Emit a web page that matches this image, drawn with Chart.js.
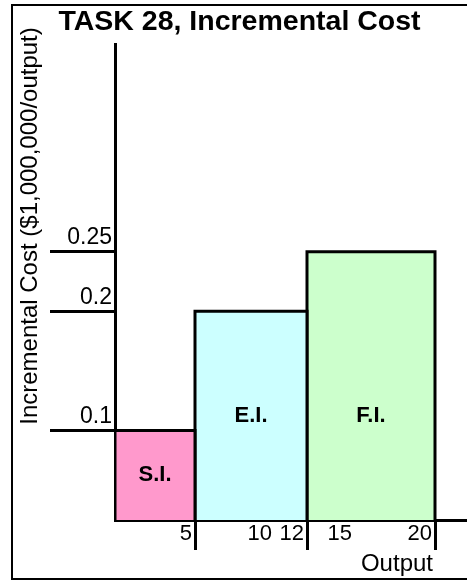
<!DOCTYPE html>
<html>
<head>
<meta charset="utf-8">
<script src="https://cdn.jsdelivr.net/npm/chart.js@4/dist/chart.umd.min.js"></script>
<style>
  html, body { margin: 0; padding: 0; background: #fff; overflow: hidden; }
  #wrap { position: relative; width: 467px; height: 580px; overflow: hidden; }
  #frame { position: absolute; left: 11px; top: 4px; width: 500px; height: 572px; border: 2px solid #000; }
  #c { position: absolute; left: 0; top: 0; }
</style>
</head>
<body>
<div id="wrap">
  <div id="frame"></div>
  <canvas id="c" width="467" height="580"></canvas>
</div>
<script>
// segments of output and their incremental cost
const segments = ['S.I.', 'E.I.', 'F.I.'];
const segStart = [0, 5, 12];
const segEnd = [5, 12, 20];
const cost = [0.1, 0.2, 0.25];
const xTicks = [5, 10, 12, 15, 20];
const yTicks = [0.1, 0.2, 0.25];

const family = '"Liberation Sans", Arial, sans-serif';
const fills = ['#ff99cc', '#ccffff', '#ccffcc'];

// each block is drawn as a closed step outline, filled down to the axis
const datasets = segments.map((name, i) => ({
  label: name,
  data: [
    { x: segStart[i], y: 0 },
    { x: segStart[i], y: cost[i] },
    { x: segEnd[i], y: cost[i] },
    { x: segEnd[i], y: 0 }
  ],
  showLine: true,
  fill: 'origin',
  backgroundColor: fills[i],
  borderColor: '#000',
  borderWidth: 3,
  borderJoinStyle: 'miter',
  pointRadius: 0,
  tension: 0
}));

// block names + axis titles
const annotate = {
  id: 'annotate',
  afterDatasetsDraw(chart) {
    const { ctx, scales: { x, y } } = chart;
    ctx.save();
    ctx.fillStyle = '#000';
    ctx.textAlign = 'center';
    ctx.textBaseline = 'middle';
    ctx.font = 'bold 22px ' + family;
    segments.forEach((name, i) => {
      const lv = i === 0 ? (y.min + cost[0]) / 2 : cost[0] + 0.012;
      ctx.fillText(name, x.getPixelForValue((segStart[i] + segEnd[i]) / 2), y.getPixelForValue(lv));
    });

    ctx.font = '24px ' + family;
    ctx.textAlign = 'right';
    ctx.textBaseline = 'alphabetic';
    ctx.fillText('Output', x.getPixelForValue(20) - 2, 571);

    ctx.translate(37, 226);
    ctx.rotate(-Math.PI / 2);
    ctx.textAlign = 'center';
    ctx.fillText('Incremental Cost ($1,000,000/output)', 0, 0);
    ctx.restore();
  }
};

new Chart(document.getElementById('c'), {
  type: 'scatter',
  data: { datasets: datasets },
  plugins: [annotate],
  options: {
    responsive: false,
    animation: false,
    devicePixelRatio: 1,
    events: [],
    layout: { padding: { left: 12, top: 0, right: 0, bottom: 0 } },
    plugins: {
      legend: { display: false },
      tooltip: { enabled: false },
      title: {
        display: true,
        text: 'TASK 28, Incremental Cost',
        color: '#000',
        font: { family: family, size: 28.5, weight: 'bold' },
        padding: { top: 5, bottom: 5 }
      }
    },
    scales: {
      x: {
        type: 'linear',
        min: 0,
        max: 22,
        afterBuildTicks: s => { s.ticks = xTicks.map(v => ({ value: v })); },
        afterFit: s => { s.height = 60; },
        border: { display: true, color: '#000', width: 3 },
        grid: {
          drawOnChartArea: false,
          tickLength: 30,
          tickWidth: 3,
          tickColor: c => segEnd.includes(c.tick.value) ? '#000' : 'rgba(0,0,0,0)'
        },
        ticks: {
          align: 'end',
          padding: -29,
          labelOffset: -3,
          autoSkip: false,
          maxRotation: 0,
          color: '#000',
          font: { family: family, size: 22 },
          callback: v => String(v)
        }
      },
      y: {
        type: 'linear',
        min: 0.025,
        max: 0.424,
        afterBuildTicks: s => { s.ticks = yTicks.map(v => ({ value: v })); },
        afterFit: s => { s.width = 103; },
        border: { display: true, color: '#000', width: 3 },
        grid: { drawOnChartArea: false, tickLength: 65, tickWidth: 3, tickColor: '#000' },
        ticks: {
          padding: -62,
          labelOffset: -14,
          color: '#000',
          font: { family: family, size: 23 },
          callback: v => String(v)
        }
      }
    }
  }
});
</script>
</body>
</html>
